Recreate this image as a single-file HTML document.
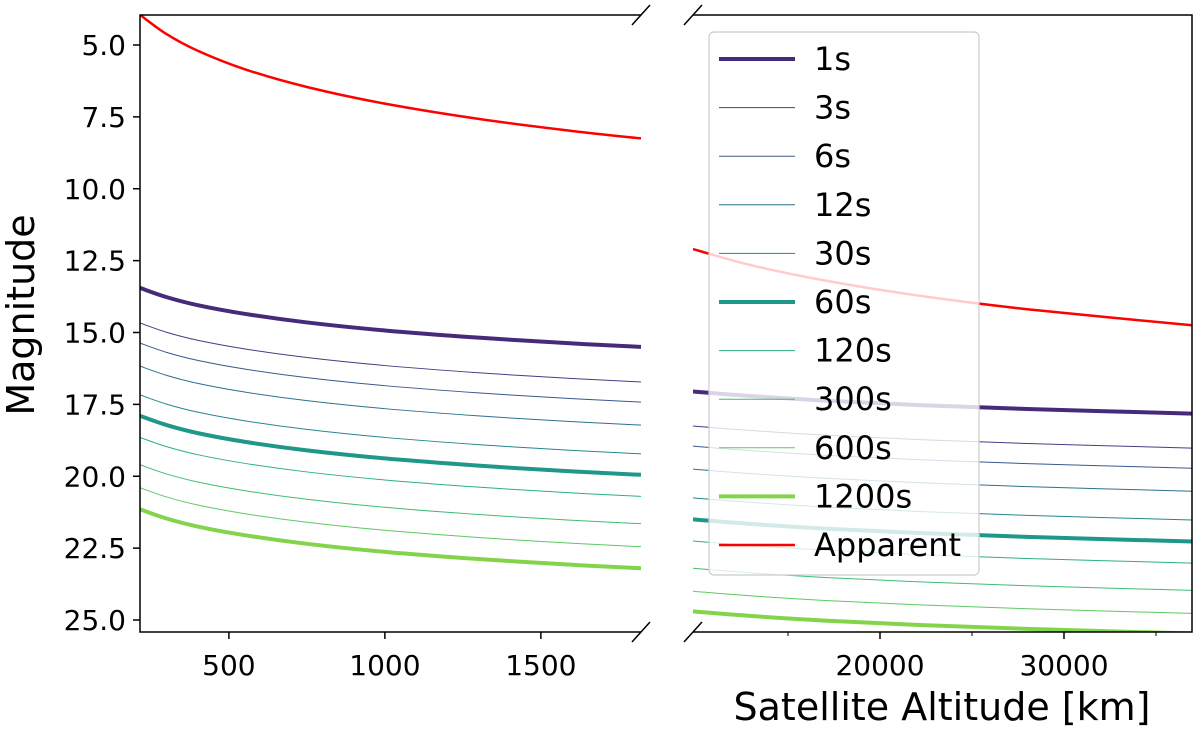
<!DOCTYPE html>
<html><head><meta charset="utf-8"><style>
html,body{margin:0;padding:0;background:#fff;}
svg{display:block;font-family:"DejaVu Sans","Liberation Sans",sans-serif;}
</style></head><body>
<svg id="c" width="1200" height="731"></svg>
<script>
const seriesNames=["1s","3s","6s","12s","30s","60s","120s","300s","600s","1200s","Apparent"];
const seriesColors=["#472a7a","#433e85","#38598c","#2c718e","#24868e","#1f988b","#2bb07f","#3fbc73","#5ec962","#84d44b","#ff0000"];
const seriesWidths=[4,1,1,1,1,4,1,1,1,4,2.5];
const leftAlt=[215,300,400,550,750,1000,1300,1600,1821];
const leftVals=[
[13.45,13.77,14.05,14.35,14.65,14.93,15.18,15.38,15.5],
[14.67,14.99,15.27,15.57,15.87,16.15,16.4,16.6,16.72],
[15.37,15.69,15.97,16.27,16.57,16.85,17.1,17.3,17.42],
[16.17,16.49,16.77,17.07,17.37,17.65,17.9,18.1,18.22],
[17.17,17.49,17.77,18.07,18.37,18.65,18.9,19.1,19.22],
[17.9,18.22,18.5,18.8,19.1,19.38,19.63,19.83,19.95],
[18.65,18.97,19.25,19.55,19.85,20.13,20.38,20.58,20.7],
[19.6,19.92,20.2,20.5,20.8,21.08,21.33,21.53,21.65],
[20.4,20.72,21.0,21.3,21.6,21.88,22.13,22.33,22.45],
[21.15,21.47,21.75,22.05,22.35,22.63,22.88,23.08,23.2],
[3.95,4.62,5.2,5.84,6.46,7.04,7.57,7.99,8.25]];
const rightAlt=[9837,13000,17000,22000,28000,36957];
const rightVals=[
[17.05,17.21,17.37,17.52,17.66,17.82],
[18.25,18.41,18.57,18.72,18.86,19.02],
[18.95,19.11,19.27,19.42,19.56,19.72],
[19.75,19.91,20.07,20.22,20.36,20.52],
[20.75,20.91,21.07,21.22,21.36,21.52],
[21.5,21.66,21.82,21.97,22.11,22.27],
[22.25,22.41,22.57,22.72,22.86,23.02],
[23.2,23.36,23.52,23.67,23.81,23.97],
[24.0,24.16,24.32,24.47,24.61,24.77],
[24.7,24.86,25.02,25.17,25.31,25.47],
[12.1,12.66,13.19,13.71,14.19,14.75]];
const yTicks=[5.0,7.5,10.0,12.5,15.0,17.5,20.0,22.5,25.0];
const leftXTicks=[500,1000,1500];
const rightXTicks=[20000,30000];
const rightMinor=[15000,25000,35000];

const NS="http://www.w3.org/2000/svg";
const svg=document.getElementById('c');
function mk(t,a,p){const e=document.createElementNS(NS,t);for(const k in a)e.setAttribute(k,a[k]);(p||svg).appendChild(e);return e;}
const T=15,B=632;
const y=v=>45+(v-5)*(575/20);
const xl=v=>140+(v-215)*(501/1606);
const xr=v=>693+(v-9837)*(499/27120);
function smooth(pts){let d="M"+pts[0][0]+","+pts[0][1];
 for(let i=0;i<pts.length-1;i++){const p0=pts[i-1]||pts[i],p1=pts[i],p2=pts[i+1],p3=pts[i+2]||p2;
  d+=" C"+(p1[0]+(p2[0]-p0[0])/6)+","+(p1[1]+(p2[1]-p0[1])/6)+" "+(p2[0]-(p3[0]-p1[0])/6)+","+(p2[1]-(p3[1]-p1[1])/6)+" "+p2[0]+","+p2[1];}
 return d;}
const defs=mk('defs',{});
const c1=mk('clipPath',{id:'cl'},defs);mk('rect',{x:140,y:T,width:501,height:B-T},c1);
const c2=mk('clipPath',{id:'cr'},defs);mk('rect',{x:693,y:T,width:499,height:B-T},c2);
const gl=mk('g',{'clip-path':'url(#cl)'});

const gr=mk('g',{'clip-path':'url(#cr)'});

const order=[10,0,1,2,3,4,5,6,7,8,9];
order.forEach(i=>{
 const p1=mk('path',{d:smooth(leftAlt.map((a,j)=>[xl(a),y(leftVals[i][j])])),fill:'none',stroke:seriesColors[i],'stroke-width':seriesWidths[i]},gl);
 
 
 const p2=mk('path',{d:smooth(rightAlt.map((a,j)=>[xr(a),y(rightVals[i][j])])),fill:'none',stroke:seriesColors[i],'stroke-width':seriesWidths[i]},gr);
 
 
});
mk('path',{d:`M641,${T} L140,${T} L140,${B} L641,${B}`,fill:'none',stroke:'#000','stroke-width':1.5});
mk('path',{d:`M693,${T} L1192,${T} L1192,${B} L693,${B}`,fill:'none',stroke:'#000','stroke-width':1.5});
[[641,T],[641,B],[693,T],[693,B]].forEach(p=>{
 const l=mk('line',{x1:p[0]-9,y1:p[1]+10,x2:p[0]+9,y2:p[1]-10,stroke:'#000','stroke-width':1.5});
 });
yTicks.forEach(v=>{mk('line',{x1:133,y1:y(v),x2:140,y2:y(v),stroke:'#000','stroke-width':1.5});
 const t=mk('text',{x:126,y:y(v)+10,'text-anchor':'end','font-size':28});t.textContent=v.toFixed(1);
 });
leftXTicks.forEach(v=>{mk('line',{x1:xl(v),y1:B,x2:xl(v),y2:B+7,stroke:'#000','stroke-width':1.5});
 const t=mk('text',{x:xl(v),y:B+43,'text-anchor':'middle','font-size':28});t.textContent=v;
 });
rightXTicks.forEach(v=>{mk('line',{x1:xr(v),y1:B,x2:xr(v),y2:B+7,stroke:'#000','stroke-width':1.5});
 const t=mk('text',{x:xr(v),y:B+43,'text-anchor':'middle','font-size':28});t.textContent=v;
 });
rightMinor.forEach(v=>{mk('line',{x1:xr(v),y1:B,x2:xr(v),y2:B+4,stroke:'#000','stroke-width':1});});
const yl=mk('text',{x:0,y:0,transform:'translate(34,315) rotate(-90)','text-anchor':'middle','font-size':38});yl.textContent='Magnitude';

const xt=mk('text',{x:942,y:720,'text-anchor':'middle','font-size':38});xt.textContent='Satellite Altitude [km]';

const lg=mk('g',{});

mk('rect',{x:709,y:32,width:270,height:543,rx:5,fill:'rgba(255,255,255,0.8)',stroke:'#ccc','stroke-width':1.2},lg);
const lo=[0,1,2,3,4,5,6,7,8,9,10];
lo.forEach((i,k)=>{const yy=59+k*48.6;
 mk('line',{x1:719,y1:yy,x2:795,y2:yy,stroke:seriesColors[i],'stroke-width':seriesWidths[i]},lg);
 const t=mk('text',{x:814,y:yy+11,'font-size':32},lg);t.textContent=seriesNames[i];
 });
</script>
</body></html>
